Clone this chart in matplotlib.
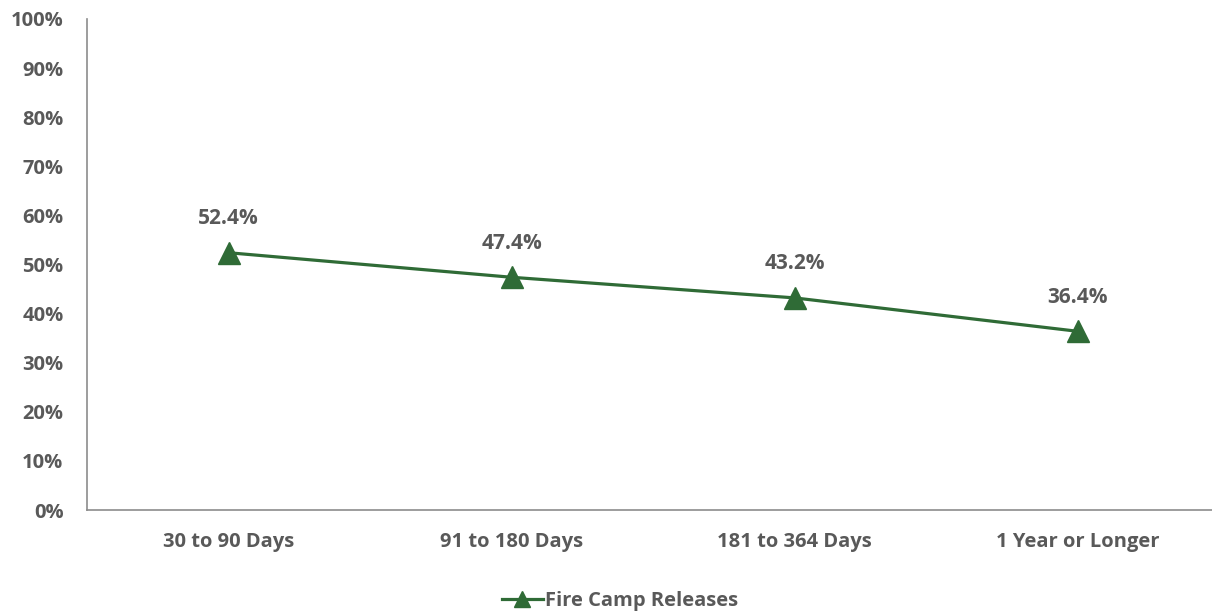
import matplotlib
matplotlib.use("Agg")
import matplotlib.pyplot as plt
from matplotlib.ticker import FuncFormatter

categories = ["30 to 90 Days", "91 to 180 Days", "181 to 364 Days", "1 Year or Longer"]
fire_camp = [52.4, 47.4, 43.2, 36.4]
y_ticks = [0, 10, 20, 30, 40, 50, 60, 70, 80, 90, 100]
series_name = "Fire Camp Releases"

text_color = "#595959"
line_color = "#2F6B36"
axis_color = "#8C8C8C"

plt.rcParams["font.family"] = ["Open Sans", "DejaVu Sans"]
FS = 14.5

W, H = 1212, 613
fig = plt.figure(figsize=(W / 100, H / 100), dpi=100)
ax = fig.add_axes([87 / W, (H - 510) / H, (1219 - 87) / W, (510 - 19) / H])

x = list(range(len(categories)))
ax.plot(x, fire_camp, color=line_color, linewidth=2.3, marker="^",
        markersize=16, markeredgecolor=line_color, markerfacecolor=line_color,
        label=series_name, clip_on=False)

for xi, v in zip(x, fire_camp):
    ax.annotate(f"{v:.1f}%", (xi, v), xytext=(0, 17), textcoords="offset points",
                ha="center", va="bottom", fontsize=FS + 0.5, fontweight="bold",
                color=text_color)

ax.set_xlim(-0.5, len(categories) - 0.5)
ax.set_ylim(0, 100)
ax.set_yticks(y_ticks)
ax.yaxis.set_major_formatter(FuncFormatter(lambda v, _: f"{v:.0f}%"))
ax.set_xticks(x)
ax.set_xticklabels(categories)

for lbl in ax.get_xticklabels() + ax.get_yticklabels():
    lbl.set_fontweight("bold")
    lbl.set_color(text_color)
    lbl.set_fontsize(FS)

ax.tick_params(axis="both", length=0)
ax.tick_params(axis="y", pad=17)
ax.tick_params(axis="x", pad=16)

for side in ("top", "right"):
    ax.spines[side].set_visible(False)
for side in ("left", "bottom"):
    ax.spines[side].set_color(axis_color)
    ax.spines[side].set_linewidth(1.2)

leg = fig.legend(loc="center", bbox_to_anchor=(620 / W, (H - 601) / H), frameon=False,
                 prop={"weight": "bold", "size": FS}, handlelength=2.0,
                 handletextpad=0.1, markerscale=0.7)
for t in leg.get_texts():
    t.set_color(text_color)

fig.savefig("out.png", dpi=100)
